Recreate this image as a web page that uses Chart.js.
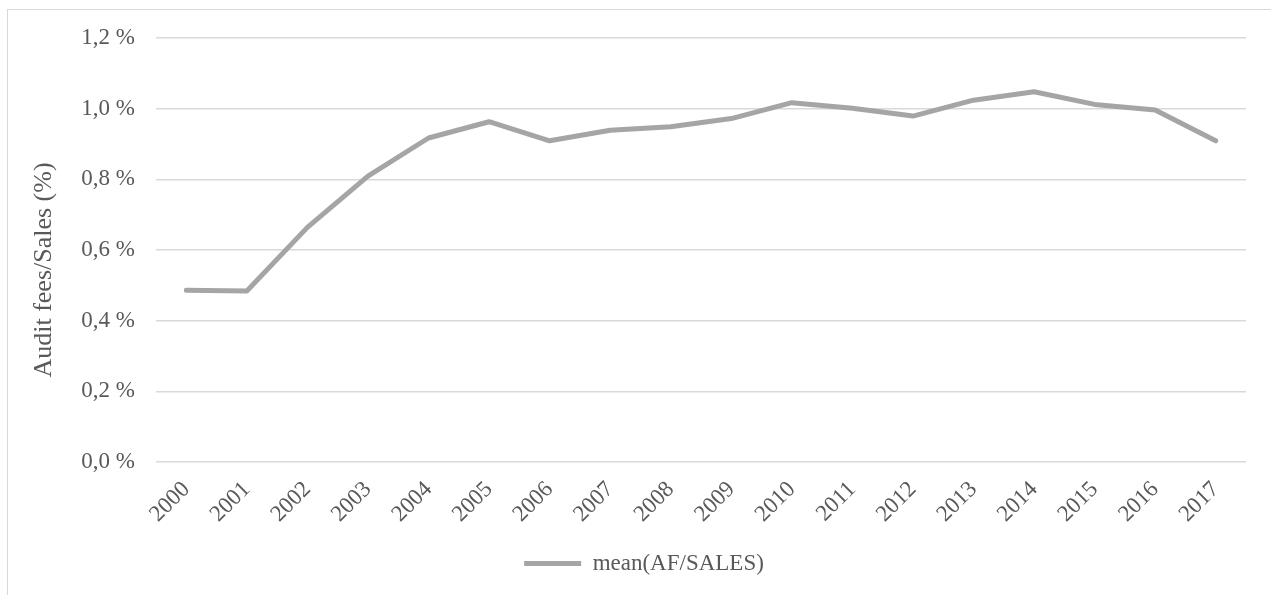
<!DOCTYPE html>
<html lang="en">
<head>
    <meta charset="UTF-8">
    <title>Audit fees / Sales</title>
    <style>
      html, body { margin: 0; padding: 0; background: #fff; overflow: hidden; }
      #frame {
        position: absolute; left: 7px; top: 9px;
        width: 1300px; height: 620px;
        border: 1.5px solid #d9d9d9;
      }
      #wrap { position: absolute; left: 0; top: 0; width: 1271px; height: 595px; }
    </style>
</head>

<script src="https://cdn.jsdelivr.net/npm/chart.js@4.4.0/dist/chart.umd.min.js"></script>

<body>
  <div id="frame"></div>
  <div id="wrap"><canvas id="feeChart" width="1271" height="595"></canvas></div>

<script>
  // years and mean audit fee / sales ratio (in %)
  var years = ['2000', '2001', '2002', '2003', '2004', '2005', '2006', '2007', '2008',
               '2009', '2010', '2011', '2012', '2013', '2014', '2015', '2016', '2017'];
  var meanAfSales = [0.486, 0.484, 0.664, 0.809, 0.917, 0.963, 0.909, 0.939, 0.949,
                     0.972, 1.017, 1.001, 0.979, 1.024, 1.048, 1.012, 0.996, 0.909];
  var yTicks = [0, 0.2, 0.4, 0.6, 0.8, 1.0, 1.2];
  var seriesName = 'mean(AF/SALES)';
  var yTitle = 'Audit fees/Sales (%)';

  var fontFamily = '"Liberation Serif", "Times New Roman", serif';
  var textColor = '#595959';

  // vertical axis title, centred a bit lower than the plot middle
  var yTitlePlugin = {
    id: 'yTitle',
    afterDraw: function(chart) {
      var ctx = chart.ctx;
      ctx.save();
      ctx.translate(44, 270);
      ctx.rotate(-Math.PI / 2);
      ctx.font = '26px ' + fontFamily;
      ctx.fillStyle = textColor;
      ctx.textAlign = 'center';
      ctx.textBaseline = 'middle';
      ctx.fillText(yTitle, 0, 0);
      ctx.restore();
    }
  };

  var ctx = document.getElementById('feeChart').getContext('2d');
  var feeChart = new Chart(ctx, {
    type: 'line',
    data: {
      labels: years,
      datasets: [{
        label: seriesName,
        data: meanAfSales,
        borderColor: '#a5a5a5',
        backgroundColor: '#a5a5a5',
        borderWidth: 5,
        borderJoinStyle: 'round',
        borderCapStyle: 'round',
        pointRadius: 0,
        tension: 0,
        fill: false
      }]
    },
    options: {
      responsive: false,
      animation: false,
      layout: { padding: { left: 42, right: 25, top: 38, bottom: 10 } },
      scales: {
        x: {
          offset: true,
          grid: { display: false },
          border: { display: false },
          ticks: {
            color: textColor,
            font: { family: fontFamily, size: 23 },
            minRotation: 45,
            maxRotation: 45,
            padding: 6,
            autoSkip: false
          },
          afterFit: function(scale) { scale.height = 80; }
        },
        y: {
          min: 0,
          max: 1.2,
          afterBuildTicks: function(scale) {
            scale.ticks = yTicks.map(function(v) { return { value: v }; });
          },
          grid: { color: '#d9d9d9', lineWidth: 1.5, drawTicks: false },
          border: { display: false },
          ticks: {
            color: textColor,
            font: { family: fontFamily, size: 23 },
            padding: 21,
            callback: function(v) { return v.toFixed(1).replace('.', ',') + ' %'; }
          },
          afterFit: function(scale) { scale.width = 114; }
        }
      },
      plugins: {
        legend: {
          position: 'bottom',
          labels: {
            color: textColor,
            font: { family: fontFamily, size: 23 },
            usePointStyle: true,
            pointStyle: 'line',
            pointStyleWidth: 57,
            padding: 10
          }
        },
        tooltip: { enabled: false }
      }
    },
    plugins: [yTitlePlugin]
  });
</script>
</body>
</html>
